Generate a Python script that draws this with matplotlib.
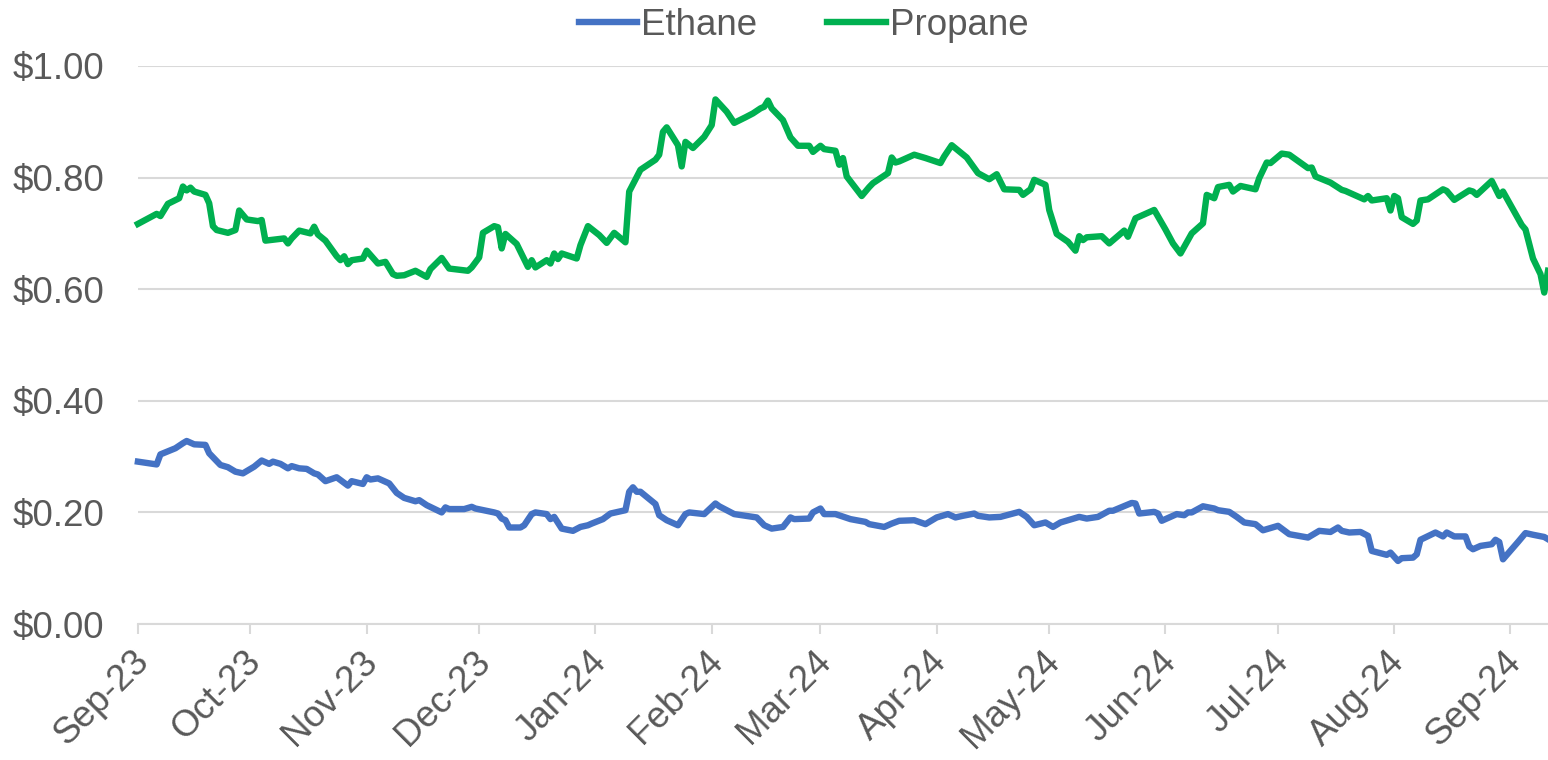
import pandas as pd
import matplotlib.pyplot as plt
import matplotlib.dates as mdates
import matplotlib.transforms as mtransforms
from matplotlib.ticker import StrMethodFormatter, MultipleLocator

plt.rcParams['font.family'] = ['Liberation Sans', 'DejaVu Sans']

# Ethane price ($/gal)
ethane_dates = [
    '2023-09-01', '2023-09-06', '2023-09-07', '2023-09-11', '2023-09-13', '2023-09-14', '2023-09-16',
    '2023-09-19', '2023-09-20', '2023-09-23', '2023-09-25', '2023-09-27', '2023-09-29',
    '2023-10-02', '2023-10-04', '2023-10-06', '2023-10-07', '2023-10-09', '2023-10-11', '2023-10-12',
    '2023-10-14', '2023-10-16', '2023-10-18', '2023-10-19', '2023-10-21', '2023-10-24', '2023-10-27',
    '2023-10-28', '2023-10-31',
    '2023-11-01', '2023-11-02', '2023-11-04', '2023-11-07', '2023-11-09', '2023-11-11', '2023-11-14',
    '2023-11-15', '2023-11-17', '2023-11-21', '2023-11-22', '2023-11-23', '2023-11-27', '2023-11-29',
    '2023-11-30',
    '2023-12-05', '2023-12-06', '2023-12-07', '2023-12-08', '2023-12-09', '2023-12-12', '2023-12-13',
    '2023-12-15', '2023-12-16', '2023-12-19', '2023-12-20', '2023-12-21', '2023-12-23', '2023-12-26',
    '2023-12-28', '2023-12-30', '2023-12-31',
    '2024-01-03', '2024-01-05', '2024-01-09', '2024-01-10', '2024-01-11', '2024-01-12', '2024-01-13',
    '2024-01-17', '2024-01-18', '2024-01-20', '2024-01-23', '2024-01-25', '2024-01-26', '2024-01-30',
    '2024-02-02', '2024-02-03', '2024-02-05', '2024-02-07', '2024-02-09', '2024-02-13', '2024-02-15',
    '2024-02-17', '2024-02-20', '2024-02-22', '2024-02-23', '2024-02-27', '2024-02-28',
    '2024-03-01', '2024-03-02', '2024-03-05', '2024-03-09', '2024-03-13', '2024-03-14', '2024-03-18',
    '2024-03-20', '2024-03-22', '2024-03-26', '2024-03-29',
    '2024-04-01', '2024-04-04', '2024-04-06', '2024-04-08', '2024-04-11', '2024-04-12', '2024-04-15',
    '2024-04-18', '2024-04-23', '2024-04-25', '2024-04-27', '2024-04-30',
    '2024-05-02', '2024-05-04', '2024-05-09', '2024-05-11', '2024-05-14', '2024-05-17', '2024-05-18',
    '2024-05-23', '2024-05-24', '2024-05-25', '2024-05-29', '2024-05-30', '2024-05-31',
    '2024-06-04', '2024-06-06', '2024-06-07', '2024-06-08', '2024-06-11', '2024-06-14', '2024-06-15',
    '2024-06-18', '2024-06-20', '2024-06-22', '2024-06-25', '2024-06-27',
    '2024-07-01', '2024-07-04', '2024-07-09', '2024-07-12', '2024-07-15', '2024-07-17', '2024-07-18',
    '2024-07-20', '2024-07-23', '2024-07-25', '2024-07-26', '2024-07-30', '2024-07-31',
    '2024-08-02', '2024-08-03', '2024-08-06', '2024-08-07', '2024-08-08', '2024-08-12', '2024-08-14',
    '2024-08-15', '2024-08-17', '2024-08-20', '2024-08-21', '2024-08-22', '2024-08-24', '2024-08-27',
    '2024-08-28', '2024-08-29', '2024-08-30',
    '2024-09-03', '2024-09-05', '2024-09-07', '2024-09-10', '2024-09-11',
]
ethane = [
    0.291, 0.286, 0.304, 0.315, 0.324, 0.328, 0.322, 0.321, 0.306, 0.285, 0.281, 0.273, 0.270,
    0.282, 0.293, 0.287, 0.291, 0.287, 0.279, 0.283, 0.279, 0.278, 0.270, 0.268, 0.256, 0.263, 0.248,
    0.256, 0.251,
    0.263, 0.259, 0.261, 0.252, 0.235, 0.226, 0.220, 0.222, 0.213, 0.200, 0.209, 0.206, 0.206, 0.210,
    0.207,
    0.200, 0.198, 0.189, 0.186, 0.173, 0.173, 0.177, 0.197, 0.200, 0.197, 0.188, 0.192, 0.171, 0.167,
    0.174, 0.177, 0.180,
    0.188, 0.198, 0.204, 0.237, 0.245, 0.237, 0.237, 0.215, 0.195, 0.186, 0.177, 0.197, 0.200, 0.197,
    0.216, 0.211, 0.204, 0.197, 0.195, 0.191, 0.177, 0.171, 0.174, 0.191, 0.188, 0.189, 0.200,
    0.207, 0.197, 0.197, 0.188, 0.183, 0.179, 0.174, 0.180, 0.185, 0.186, 0.179,
    0.191, 0.197, 0.191, 0.194, 0.198, 0.194, 0.191, 0.192, 0.201, 0.192, 0.177, 0.182,
    0.174, 0.182, 0.192, 0.189, 0.192, 0.203, 0.203, 0.217, 0.216, 0.198, 0.201, 0.198, 0.185,
    0.197, 0.195, 0.200, 0.200, 0.211, 0.207, 0.204, 0.201, 0.192, 0.182, 0.179, 0.168,
    0.176, 0.161, 0.155, 0.167, 0.165, 0.173, 0.167, 0.164, 0.165, 0.158, 0.131, 0.124, 0.128,
    0.113, 0.118, 0.119, 0.125, 0.151, 0.164, 0.157, 0.164, 0.157, 0.157, 0.139, 0.134, 0.140, 0.143,
    0.151, 0.147, 0.116,
    0.147, 0.163, 0.160, 0.156, 0.152,
]

# Propane price ($/gal)
propane_dates = [
    '2023-09-01', '2023-09-06', '2023-09-07', '2023-09-09', '2023-09-12', '2023-09-13', '2023-09-14',
    '2023-09-15', '2023-09-16', '2023-09-19', '2023-09-20', '2023-09-21', '2023-09-22', '2023-09-25',
    '2023-09-27', '2023-09-28', '2023-09-30',
    '2023-10-03', '2023-10-04', '2023-10-05', '2023-10-10', '2023-10-11', '2023-10-12', '2023-10-14',
    '2023-10-17', '2023-10-18', '2023-10-19', '2023-10-21', '2023-10-24', '2023-10-25', '2023-10-26',
    '2023-10-27', '2023-10-28', '2023-10-31',
    '2023-11-01', '2023-11-04', '2023-11-06', '2023-11-08', '2023-11-09', '2023-11-11', '2023-11-14',
    '2023-11-17', '2023-11-18', '2023-11-21', '2023-11-23', '2023-11-28', '2023-11-29',
    '2023-12-01', '2023-12-02', '2023-12-05', '2023-12-06', '2023-12-07', '2023-12-08', '2023-12-11',
    '2023-12-14', '2023-12-15', '2023-12-16', '2023-12-19', '2023-12-20', '2023-12-21', '2023-12-22',
    '2023-12-23', '2023-12-27', '2023-12-28', '2023-12-30',
    '2024-01-02', '2024-01-04', '2024-01-06', '2024-01-09', '2024-01-10', '2024-01-13', '2024-01-17',
    '2024-01-18', '2024-01-19', '2024-01-20', '2024-01-23', '2024-01-24', '2024-01-25', '2024-01-27',
    '2024-01-30',
    '2024-02-01', '2024-02-02', '2024-02-05', '2024-02-07', '2024-02-10', '2024-02-12', '2024-02-14',
    '2024-02-15', '2024-02-16', '2024-02-17', '2024-02-20', '2024-02-22', '2024-02-24', '2024-02-27',
    '2024-02-28',
    '2024-03-01', '2024-03-02', '2024-03-05', '2024-03-06', '2024-03-07', '2024-03-08', '2024-03-12',
    '2024-03-14', '2024-03-15', '2024-03-19', '2024-03-20', '2024-03-21', '2024-03-22', '2024-03-26',
    '2024-03-29',
    '2024-04-02', '2024-04-03', '2024-04-05', '2024-04-09', '2024-04-12', '2024-04-15', '2024-04-17',
    '2024-04-19', '2024-04-23', '2024-04-24', '2024-04-26', '2024-04-27', '2024-04-30',
    '2024-05-01', '2024-05-03', '2024-05-06', '2024-05-08', '2024-05-09', '2024-05-10', '2024-05-11',
    '2024-05-15', '2024-05-17', '2024-05-21', '2024-05-22', '2024-05-24', '2024-05-29',
    '2024-06-01', '2024-06-03', '2024-06-05', '2024-06-08', '2024-06-11', '2024-06-12', '2024-06-14',
    '2024-06-15', '2024-06-18', '2024-06-19', '2024-06-21', '2024-06-25', '2024-06-26', '2024-06-28',
    '2024-06-29',
    '2024-07-02', '2024-07-04', '2024-07-09', '2024-07-10', '2024-07-11', '2024-07-15', '2024-07-18',
    '2024-07-19', '2024-07-24', '2024-07-25', '2024-07-26', '2024-07-30', '2024-07-31',
    '2024-08-01', '2024-08-02', '2024-08-03', '2024-08-06', '2024-08-07', '2024-08-08', '2024-08-10',
    '2024-08-14', '2024-08-15', '2024-08-17', '2024-08-21', '2024-08-22', '2024-08-23', '2024-08-27',
    '2024-08-29', '2024-08-30',
    '2024-09-04', '2024-09-05', '2024-09-07', '2024-09-09', '2024-09-10', '2024-09-11',
]
propane = [
    0.717, 0.735, 0.731, 0.753, 0.763, 0.784, 0.777, 0.782, 0.775, 0.769, 0.754, 0.713, 0.706, 0.701,
    0.706, 0.741, 0.725,
    0.722, 0.724, 0.687, 0.691, 0.682, 0.691, 0.705, 0.700, 0.712, 0.698, 0.687, 0.659, 0.652, 0.659,
    0.645, 0.652, 0.655,
    0.669, 0.646, 0.649, 0.627, 0.624, 0.625, 0.633, 0.622, 0.636, 0.656, 0.637, 0.633, 0.639,
    0.657, 0.701, 0.713, 0.711, 0.673, 0.699, 0.681, 0.640, 0.652, 0.639, 0.652, 0.646, 0.664, 0.654,
    0.664, 0.655, 0.679, 0.713,
    0.697, 0.683, 0.701, 0.684, 0.775, 0.814, 0.832, 0.841, 0.882, 0.890, 0.858, 0.820, 0.864, 0.853,
    0.873,
    0.894, 0.940, 0.918, 0.898, 0.908, 0.915, 0.924, 0.927, 0.938, 0.924, 0.903, 0.872, 0.857, 0.857,
    0.846,
    0.857, 0.851, 0.848, 0.823, 0.835, 0.802, 0.767, 0.783, 0.790, 0.808, 0.836, 0.827, 0.829, 0.841,
    0.835,
    0.826, 0.838, 0.858, 0.836, 0.808, 0.797, 0.806, 0.779, 0.778, 0.769, 0.779, 0.796, 0.787,
    0.742, 0.699, 0.685, 0.669, 0.695, 0.688, 0.693, 0.695, 0.682, 0.705, 0.694, 0.727, 0.742,
    0.707, 0.682, 0.664, 0.700, 0.718, 0.769, 0.763, 0.783, 0.787, 0.775, 0.785, 0.779, 0.799, 0.827,
    0.826,
    0.843, 0.841, 0.817, 0.818, 0.802, 0.791, 0.778, 0.776, 0.761, 0.767, 0.759, 0.763, 0.741,
    0.767, 0.763, 0.729, 0.717, 0.723, 0.759, 0.761, 0.779, 0.776, 0.760, 0.777, 0.775, 0.769, 0.794,
    0.767, 0.775,
    0.715, 0.707, 0.655, 0.627, 0.594, 0.633,
]

eth = pd.Series(ethane, index=pd.to_datetime(ethane_dates))
pro = pd.Series(propane, index=pd.to_datetime(propane_dates))

text_col = '#595959'
grid_col = '#D9D9D9'
fs = 26.5

fig = plt.figure(figsize=(15.48, 7.6), dpi=100)
ax = fig.add_axes([0.0891, 0.1789, 0.9109, 0.7343])

ax.plot(eth.index, eth.values, color='#4472C4', lw=4.6, label='Ethane', solid_joinstyle='round')
ax.plot(pro.index, pro.values, color='#00B050', lw=4.6, label='Propane', solid_joinstyle='round')

ax.set_ylim(0, 1.0)
ax.set_xlim(pd.Timestamp('2023-09-01'), pd.Timestamp('2024-09-11'))
ax.yaxis.set_major_locator(MultipleLocator(0.2))
ax.yaxis.set_major_formatter(StrMethodFormatter('${x:.2f}'))
ax.xaxis.set_major_locator(mdates.MonthLocator())
ax.xaxis.set_major_formatter(mdates.DateFormatter('%b-%y'))

ax.grid(axis='y', color=grid_col, lw=1.5)
ax.set_axisbelow(True)
for s in ['top', 'right', 'left']:
    ax.spines[s].set_visible(False)
ax.spines['bottom'].set_color(grid_col)
ax.spines['bottom'].set_linewidth(1.5)

ax.tick_params(axis='y', length=0, pad=24, labelsize=fs, labelcolor=text_col)
ax.tick_params(axis='x', length=7.5, width=1.5, color=grid_col, pad=4, labelsize=fs, labelcolor=text_col)
shift = mtransforms.ScaledTranslation(-7 / 100, -4 / 100, fig.dpi_scale_trans)
for lbl in ax.get_xticklabels():
    lbl.set_rotation(45)
    lbl.set_ha('right')
    lbl.set_rotation_mode('anchor')
    lbl.set_transform(lbl.get_transform() + shift)

for line in ax.get_lines():
    line.set_clip_on(False)

leg = ax.legend(loc='center', bbox_to_anchor=(0.472, 1.072), ncol=2, frameon=False,
                fontsize=fs, handlelength=1.6, handletextpad=0.1, columnspacing=1.9)
for t in leg.get_texts():
    t.set_color(text_col)

fig.savefig('out.png', dpi=100)
